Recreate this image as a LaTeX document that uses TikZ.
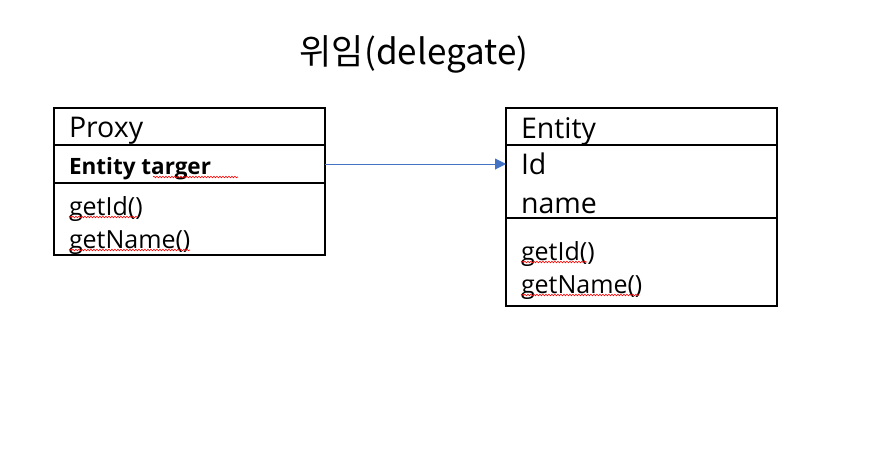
\documentclass[tikz,border=0pt]{standalone}
\usepackage{fontspec}
\setmainfont{Open Sans}
\newfontfamily\hanfont{Noto Sans CJK KR}
\usetikzlibrary{positioning,arrows.meta,decorations.pathmorphing}

\definecolor{linkblue}{HTML}{4472C4}
\tikzset{compart/.style={draw, line width=2.4pt, minimum width=271pt, inner sep=0pt, outer sep=0pt},
         member/.style={anchor=base west, inner sep=0pt, outer sep=0pt},
         big/.style={font=\fontsize{28.5}{32}\selectfont},
         small/.style={font=\fontsize{25}{29}\selectfont},
         field/.style={font=\fontsize{22.5}{28}\selectfont\bfseries},
         link/.style={draw=linkblue, line width=1pt, -{Triangle[length=11pt,width=11pt]}},
         squiggle/.style={draw=red, line width=0.6pt, decorate,
                          decoration={snake, segment length=3pt, amplitude=0.8pt}}}

\begin{document}
\begin{tikzpicture}[x=1pt, y=-1pt]
\useasboundingbox (0,0) rectangle (896,456);

% title
\node[anchor=base, inner sep=0pt, font=\hanfont\fontsize{35}{40}\selectfont] (title) at (414,64) {위임(delegate)};

% Proxy class
\node[compart, anchor=north west, minimum height=37pt] (phead) at (54,108) {};
\node[compart, minimum height=38pt, below=0pt of phead] (pattr) {};
\node[compart, minimum height=72pt, below=0pt of pattr] (pops) {};
\node[member, big] (pname) at (69,137) {Proxy};
\node[member, field] (ptarget) at (69,174) {Entity targer};
\node[member, small] (pgetid) at (69,215) {getId()};
\node[member, small] (pgetname) at (69,248) {getName()};

% Entity class
\node[compart, anchor=north west, minimum height=37pt] (ehead) at (506,108) {};
\node[compart, minimum height=73pt, below=0pt of ehead] (eattr) {};
\node[compart, minimum height=88pt, below=0pt of eattr] (eops) {};
\node[member, big] (ename) at (521,138) {Entity};
\node[member, big] (eid) at (521,174) {Id};
\node[member, big] (efield) at (521,213) {name};
\node[member, small] (egetid) at (521,260) {getId()};
\node[member, small] (egetname) at (521,293) {getName()};

% delegation
\draw[link] (pattr.east) -- (pattr.east -| eattr.west);

% spell check marks
\draw[squiggle] (153,177) -- (238,177);
\draw[squiggle] ([yshift=-2pt]pgetid.base west) -- ++(68,0);
\draw[squiggle] ([yshift=-2pt]pgetname.base west) -- ++(121,0);
\draw[squiggle] ([yshift=-2pt]egetid.base west) -- ++(66,0);
\draw[squiggle] ([yshift=-2pt]egetname.base west) -- ++(118,0);
\end{tikzpicture}
\end{document}
